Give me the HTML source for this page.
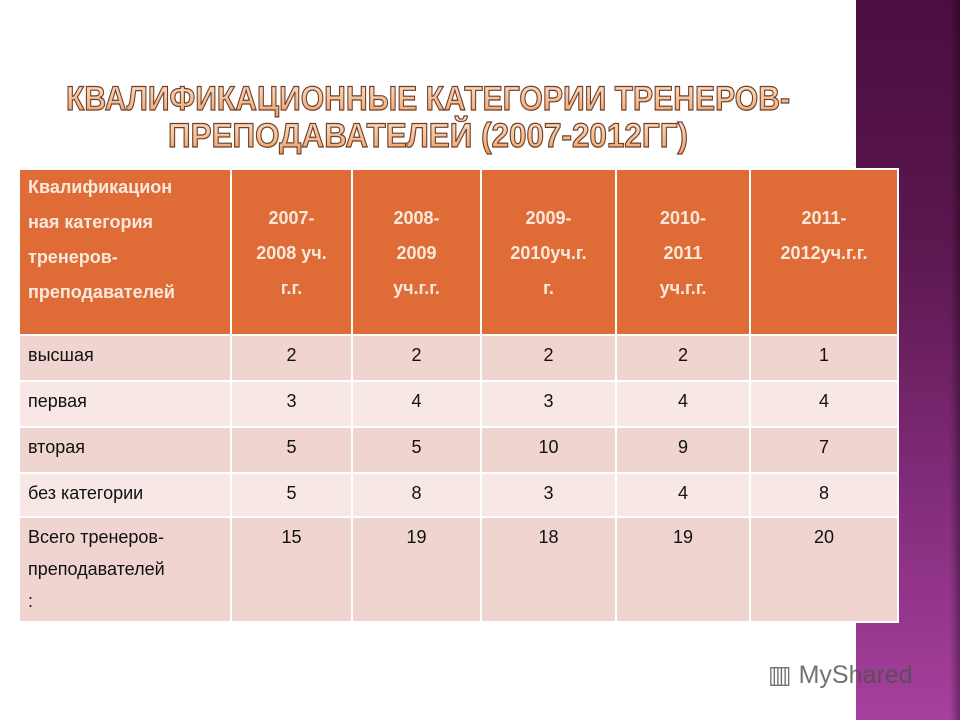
<!DOCTYPE html>
<html><head><meta charset="utf-8"><style>
body{margin:0;width:960px;height:720px;position:relative;overflow:hidden;background:#fff;font-family:"Liberation Sans","DejaVu Sans",sans-serif}
#strip{position:absolute;left:856px;top:0;width:104px;height:720px;background:linear-gradient(180deg,#4c0d40 0%,#5c1850 35%,#7e2a76 65%,#a6409e 100%)}
#strip:after{content:"";position:absolute;right:0;top:0;width:10px;height:100%;background:linear-gradient(90deg,rgba(0,0,0,0),rgba(0,0,0,.35))}
#title{position:absolute;left:0;top:0}
table{position:absolute;left:18px;top:168px;border-collapse:collapse;table-layout:fixed}
td,th{border:2px solid #fff;padding:0;font-size:18px;color:#111;vertical-align:top}
td>div,th>div{overflow:hidden;box-sizing:border-box}
th{background:#df6c36;color:#fbe8dc;font-weight:bold;text-align:center;font-size:18px}
th>div{height:164px;line-height:35px;padding-top:31px}
th.first{text-align:left}
th.first>div{padding-left:8px;padding-top:0}
td{text-align:center}
td>div{height:44px;padding-top:8px;line-height:22px}
td.l{text-align:left}
td.l>div{padding-left:8px}
tr.a td{background:#efd4cf}
tr.b td{background:#f7e8e6}
#wm{position:absolute;left:768px;top:660px;font-size:25px;color:#4a524e;opacity:.8}
</style></head><body>
<div id="strip"></div>
<svg id="title" width="860" height="160">
<defs><linearGradient id="tg" x1="0" y1="0" x2="0" y2="1"><stop offset="0" stop-color="#fbe3cc"/><stop offset="1" stop-color="#eea064"/></linearGradient></defs>
<text x="66" y="110" textLength="724" lengthAdjust="spacingAndGlyphs" font-family="Liberation Sans" font-weight="bold" font-size="34" fill="url(#tg)" stroke="#6e3e2a" stroke-width="1.2">КВАЛИФИКАЦИОННЫЕ КАТЕГОРИИ ТРЕНЕРОВ-</text>
<text x="168" y="147" textLength="520" lengthAdjust="spacingAndGlyphs" font-family="Liberation Sans" font-weight="bold" font-size="34" fill="url(#tg)" stroke="#6e3e2a" stroke-width="1.2">ПРЕПОДАВАТЕЛЕЙ (2007-2012ГГ)</text>
</svg>
<table>
<colgroup><col style="width:212px"><col style="width:121px"><col style="width:129px"><col style="width:135px"><col style="width:134px"><col style="width:148px"></colgroup>
<tr>
<th class="first"><div>Квалификацион<br>ная категория<br>тренеров-<br>преподавателей</div></th>
<th><div>2007-<br>2008 уч.<br>г.г.</div></th>
<th><div>2008-<br>2009<br>уч.г.г.</div></th>
<th><div>2009-<br>2010уч.г.<br>г.</div></th>
<th><div>2010-<br>2011<br>уч.г.г.</div></th>
<th><div>2011-<br>2012уч.г.г.</div></th></tr>
<tr class="a"><td class="l"><div>высшая</div></td><td><div>2</div></td><td><div>2</div></td><td><div>2</div></td><td><div>2</div></td><td><div>1</div></td></tr>
<tr class="b"><td class="l"><div>первая</div></td><td><div>3</div></td><td><div>4</div></td><td><div>3</div></td><td><div>4</div></td><td><div>4</div></td></tr>
<tr class="a"><td class="l"><div>вторая</div></td><td><div>5</div></td><td><div>5</div></td><td><div>10</div></td><td><div>9</div></td><td><div>7</div></td></tr>
<tr class="b"><td class="l"><div style="height:42px">без категории</div></td><td><div style="height:42px">5</div></td><td><div style="height:42px">8</div></td><td><div style="height:42px">3</div></td><td><div style="height:42px">4</div></td><td><div style="height:42px">8</div></td></tr>
<tr class="a"><td class="l"><div style="height:103px;line-height:32px;padding-top:3px">Всего тренеров-<br>преподавателей<br>:</div></td><td><div style="height:103px">15</div></td><td><div style="height:103px">19</div></td><td><div style="height:103px">18</div></td><td><div style="height:103px">19</div></td><td><div style="height:103px">20</div></td></tr>
</table>
<div id="wm">▥ MyShared</div>
</body></html>
